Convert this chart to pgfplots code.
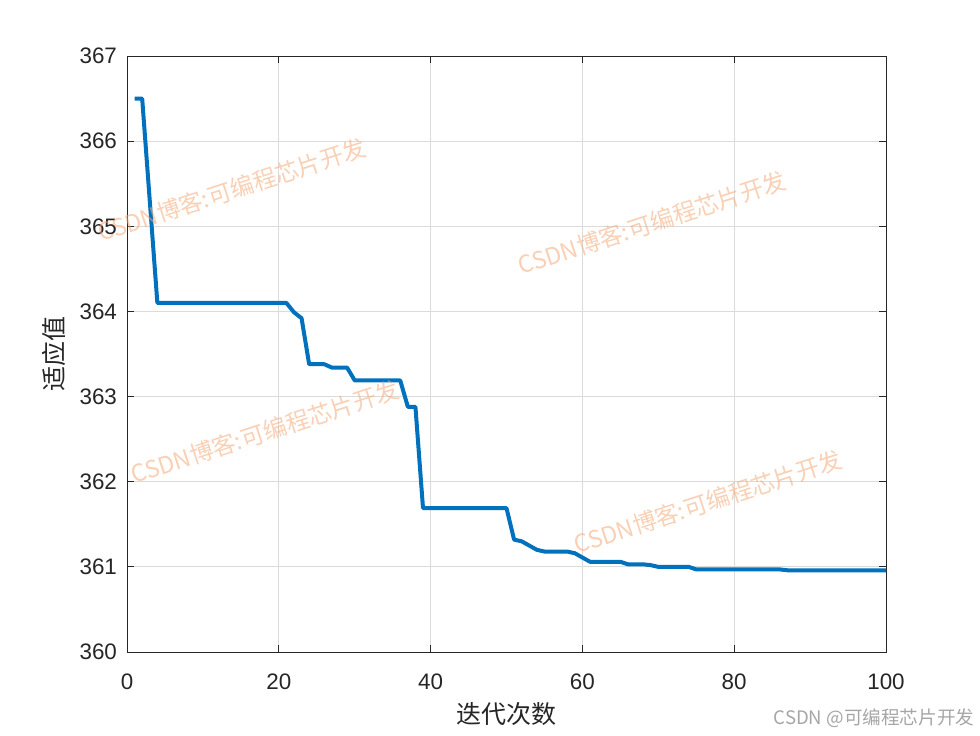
\documentclass[border=0pt]{standalone}
\usepackage{fontspec}
\setmainfont{Liberation Sans}
\newfontfamily\cjk{Noto Sans CJK SC}
\usepackage{pgfplots}
\pgfplotsset{compat=1.18}

\definecolor{mblue}{RGB}{0,114,189}
\definecolor{axgray}{RGB}{38,38,38}
\definecolor{wmark}{RGB}{244,170,120}

\begin{document}
\begin{tikzpicture}
  \useasboundingbox (0,0) rectangle (490pt,367.5pt);
  \begin{axis}[
    at={(63.5pt,41.5pt)}, anchor=south west,
    scale only axis,
    width=379.5pt, height=298pt,
    xmin=0, xmax=100, ymin=360, ymax=367,
    xtick={0,20,...,100}, ytick={360,...,367},
    grid=major,
    major grid style={line width=0.4pt, color=gray!28},
    axis line style={line width=0.5pt, color=axgray},
    tick style={line width=0.5pt, color=axgray},
    tick align=inside,
    major tick length=3.5pt,
    ticklabel style={font=\fontsize{11.2}{13}\selectfont, color=axgray},
    xticklabel style={yshift=-7.5pt},
    yticklabel style={xshift=-1.5pt},
    /pgf/number format/assume math mode=true,
    /pgf/number format/1000 sep={},
    xlabel={\cjk 迭代次数},
    ylabel={\cjk 适应值},
    label style={font=\fontsize{12.5}{14}\selectfont, color=axgray},
    xlabel style={yshift=0.5pt},
    ylabel style={yshift=0pt},
  ]
    \addplot[mblue, line width=2pt, line join=round] coordinates {
      (1,366.5) (2,366.5) (3,365.3) (4,364.1) (21,364.1) (22,363.99)
      (23,363.92) (24,363.38) (26,363.38) (27,363.34) (29,363.34)
      (30,363.19) (36,363.19) (37,362.88) (38,362.88) (39,361.69)
      (50,361.69) (51,361.32) (52,361.30) (53,361.25) (54,361.20)
      (55,361.18) (58,361.18) (59,361.16) (60,361.11) (61,361.06)
      (65,361.06) (66,361.03) (68,361.03) (69,361.02) (70,361.00)
      (74,361.00) (75,360.97) (86,360.97) (87,360.96) (100,360.96)
    };
  \end{axis}
  \foreach \p in {(116pt,272.5pt),(326pt,256pt),(132.5pt,151.5pt),(354pt,116.5pt)}
    \node[rotate=18, text=wmark, opacity=0.55, inner sep=0pt,
          font=\cjk\fontsize{11.8}{12}\selectfont] at \p {CSDN博客:可编程芯片开发};
  \node[text=gray!70, inner sep=0pt, font=\cjk\fontsize{9.3}{10}\selectfont]
    at (437pt,8.5pt) {CSDN @可编程芯片开发};
\end{tikzpicture}
\end{document}
